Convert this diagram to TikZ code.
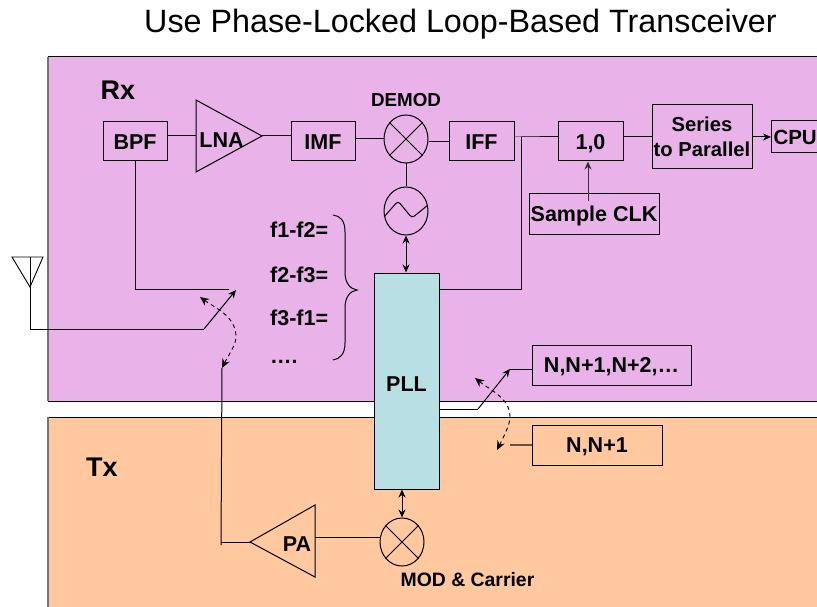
\documentclass[tikz,border=0pt]{standalone}
\usepackage{fontspec}
\setmainfont{Liberation Sans}
\usetikzlibrary{shapes.geometric,arrows.meta}
\definecolor{rxpink}{RGB}{233,178,232}
\definecolor{txorange}{RGB}{255,200,158}
\definecolor{plltea}{RGB}{184,224,228}
\tikzset{
  x=1pt,y=-1pt,
  capped/.style={text height=15.5pt,text depth=0pt},
  lbl/.style={inner sep=0pt,font=\fontsize{21.5}{24}\selectfont\bfseries,align=center},
  blockbase/.style={draw=black,line width=1pt,inner sep=0pt,font=\fontsize{21.5}{24}\selectfont\bfseries,align=center},
  blockn/.style={blockbase,capped},
  mixer/.style={draw=black,line width=1pt,ellipse,minimum width=44pt,minimum height=48pt,inner sep=0pt},
  wire/.style={draw=black,line width=1pt},
  tipped/.style={wire,-{Stealth[length=8pt,width=7pt]}},
  bitip/.style={wire,{Stealth[length=8pt,width=7pt]}-{Stealth[length=8pt,width=7pt]}},
  dashtip/.style={draw=black,line width=.9pt,dash pattern=on 4pt off 3.5pt,{Stealth[length=9pt,width=8pt]}-{Stealth[length=9pt,width=8pt]}},
  flabel/.style={lbl,anchor=west,font=\fontsize{21.5}{24}\selectfont\bfseries},
}
\begin{document}
\begin{tikzpicture}
\useasboundingbox (0,0) rectangle (817,607);
\fill[white] (0,0) rectangle (817,607);
% panels
\fill[rxpink] (48,57) rectangle (817,401);
\fill[txorange] (48,417) rectangle (817,607);
\draw[line width=1pt] (817,57) -- (48,57);
\draw[line width=1pt] (48,401) -- (817,401);
\draw[line width=1pt] (817,417) -- (48,417);
\draw[line width=1.5pt,black!55] (48,57) -- (48,401);
\draw[line width=1.5pt,black!55] (48,417) -- (48,607);
% title
\node[inner sep=0pt,font=\fontsize{32.3}{36}\selectfont] (title) at (460.5,24) {Use Phase-Locked Loop-Based Transceiver};
\node[inner sep=0pt,font=\fontsize{27}{30}\selectfont\bfseries] (rx) at (118,90) {Rx};
\node[inner sep=0pt,font=\fontsize{27}{30}\selectfont\bfseries] (tx) at (102,467) {Tx};
% blocks
\node[blockn,minimum width=64pt,minimum height=39pt] (bpf) at (135,141.5) {BPF};
\node[blockn,minimum width=64pt,minimum height=39pt] (imf) at (323,141.5) {IMF};
\node[blockn,minimum width=65pt,minimum height=39pt] (iff) at (481.5,141.5) {IFF};
\node[blockn,minimum width=65pt,minimum height=39pt] (onezero) at (590.5,141.5) {1,0};
\node[blockbase,minimum width=100pt,minimum height=64pt,font=\fontsize{20.2}{25.5}\selectfont\bfseries] (s2p) at (702,137) {Series\\to Parallel};
\node[blockn,minimum width=60pt,minimum height=32pt,anchor=west,text width=60pt,align=left,font=\fontsize{20.5}{24}\selectfont\bfseries] (cpu) at (771,137) {\hspace{2pt}CPU};
\node[blockn,minimum width=130pt,minimum height=40pt] (clk) at (594,214) {Sample CLK};
\node[blockbase,fill=plltea,minimum width=65pt,minimum height=216pt,text height=21.5pt,text depth=0pt] (pll) at (406.5,381) {PLL};
\node[blockn,minimum width=159pt,minimum height=40pt] (nlist) at (611.5,365) {N,N+1,N+2,…};
\node[blockn,minimum width=130pt,minimum height=40pt] (nshort) at (597,445) {N,N+1};
% mixers
\node[mixer] (demod) at (406,139) {};
\draw[wire] (demod.45) -- (demod.225) (demod.135) -- (demod.315);
\node[mixer] (osc) at (406,211) {};
\draw[wire,rounded corners=3pt] (osc.195) -- (398,201) -- (412,218) -- (osc.15);
\node[mixer] (mod) at (402,542) {};
\draw[wire] (mod.45) -- (mod.225) (mod.135) -- (mod.315);
\node[lbl,font=\fontsize{18.8}{20}\selectfont\bfseries] (demodl) at (406,100) {DEMOD};
\node[lbl,font=\fontsize{19.4}{20}\selectfont\bfseries] (modl) at (467.5,580) {MOD \& Carrier};
% amplifiers
\coordinate (lnatop) at (196,100);
\coordinate (lnabot) at (196,172);
\coordinate (lnatip) at (262,136);
\coordinate (lnain) at (196,136);
\draw[wire] (lnatop) -- (lnatip) -- (lnabot) -- cycle;
\node[lbl] (lna) at (221.5,140) {LNA};
\coordinate (patop) at (315,505);
\coordinate (pabot) at (315,577);
\coordinate (patip) at (250,542);
\coordinate (paout) at (315,537);
\draw[wire] (patop) -- (patip) -- (pabot) -- cycle;
\node[lbl] (pa) at (297,544) {PA};
% antenna
\coordinate (antl) at (12,257);
\coordinate (antr) at (43,257);
\coordinate (anttip) at (30,287);
\coordinate (anttop) at (30,257);
\draw[line width=.9pt] (antl) -- (antr) -- (anttip) -- cycle;
% signal wires
\draw[wire] (bpf.east |- lnain) -- (lnain);
\draw[wire] (lnatip) -- (imf.west |- lnatip);
\draw[wire] (imf.east |- demod.west) -- (demod.west);
\draw[wire] (demod.east |- iff.west) -- (iff.west);
\coordinate (junc) at (521,137);
\draw[wire] (iff.east |- junc) -- (junc) -- (onezero.west |- junc);
\draw[wire] (junc) -- (521,289) -- (pll.east |- 0,289);
\draw[wire] (onezero.east |- junc) -- (s2p.west |- junc);
\draw[tipped] (s2p.east |- cpu.west) -- (cpu.west);
\draw[wire] (demod.south) -- (osc.north);
\draw[bitip] (osc.south) -- (pll.north -| osc.south);
\draw[bitip] (mod.north |- pll.south) -- (mod.north);
\draw[wire,black!75!rxpink,-{Stealth[length=8pt,width=7pt]}] (588,201) -- (onezero.south -| 588,0);
% switch
\coordinate (swa) at (229,289);
\coordinate (swb) at (204,329);
\coordinate (swtip) at (236,290);
\draw[wire] (bpf.south) -- (bpf.south |- swa) -- (swa);
\draw[wire] (anttop) -- (30,329) -- (swb);
\draw[tipped] (swb) -- (swtip);
\coordinate (dsa) at (200,297);
\coordinate (dsb) at (222,368);
\draw[dashtip] (dsa) .. controls (215,308) and (236,316) .. (236,337) .. controls (236,345) and (228,356) .. (dsb);
\draw[wire] (dsb) -- (221,545);
\draw[wire] (221,542) -- (patip);
% PA to mixer
\draw[wire] (paout) -- (mod.west |- paout);
% N switch
\coordinate (nsw) at (478,409);
\coordinate (ntip) at (510,369);
\draw[wire] (pll.east |- nsw) -- (nsw);
\draw[tipped] (nsw) -- (ntip);
\draw[wire] (ntip) -- (nlist.west |- ntip);
\coordinate (dna) at (475,378);
\coordinate (dnb) at (497,450);
\draw[dashtip] (dna) .. controls (490,390) and (510,398) .. (510,417) .. controls (510,425) and (503,438) .. (dnb);
\coordinate (nfree) at (510,445);
\draw[line width=1.3pt,black!60!txorange] (nfree) -- (nshort.west);
% brace and labels
\coordinate (brtip) at (357,290);
\draw[wire] (333,215) .. controls (340,216) and (345,220) .. (345,232) -- (345,272)
  .. controls (345,283) and (350,289) .. (brtip)
  .. controls (350,291) and (345,297) .. (345,308) -- (345,343)
  .. controls (345,354) and (340,359) .. (333,360);
\node[flabel] (f1) at (270,230) {f1-f2=};
\node[flabel] (f2) at (270,275) {f2-f3=};
\node[flabel] (f3) at (270,318) {f3-f1=};
\node[flabel] (f4) at (270,362) {….};
\end{tikzpicture}
\end{document}
